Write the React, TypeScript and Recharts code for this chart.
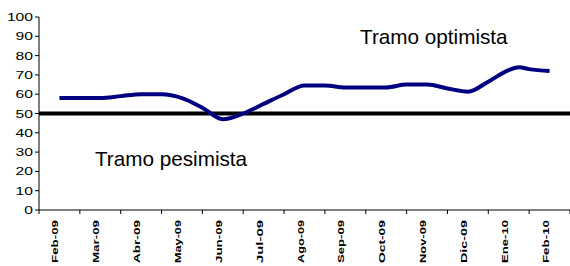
import React from 'react';
import { LineChart, Line, XAxis, YAxis, ReferenceLine, ReferenceDot } from 'recharts';

const monthLabels = ['Feb-09', 'Mar-09', 'Abr-09', 'May-09', 'Jun-09', 'Jul-09', 'Ago-09', 'Sep-09', 'Oct-09', 'Nov-09', 'Dic-09', 'Ene-10', 'Feb-10'];
const positions = [0, 0.5, 1, 1.5, 2, 2.5, 3, 3.5, 4, 4.5, 5, 5.5, 6, 6.5, 7, 7.5, 8, 8.5, 9, 9.5, 10, 10.5, 11, 11.25, 11.5, 12];
const values = [58, 58, 58, 59, 60, 60, 58, 53, 47, 50, 55, 60, 64.5, 64.5, 63.5, 63.5, 63.5, 65, 65, 63, 61.3, 66.5, 72.5, 74, 73, 72];
const yTicks = [0, 10, 20, 30, 40, 50, 60, 70, 80, 90, 100];
const threshold = 50;
const annotations = [
  { text: 'Tramo optimista', x: 7.36, y: 86 },
  { text: 'Tramo pesimista', x: 0.87, y: 22.8 },
];

const data = positions.map((p, i) => ({ x: p, v: values[i] }));
const monthTicks = monthLabels.map((_, i) => i);

const W = 570;
const H = 266;
const LEFT = 39;
const PLOT_W = W - LEFT;
const STEP = PLOT_W / monthLabels.length;

const FONT = 'Liberation Sans, Arial, sans-serif';

const MonthTick = (props: any) => {
  const { x, y, payload, index } = props;
  const label = monthLabels[payload.value] ?? '';
  const ty = y;
  return (
    <g>
      <line x1={x - STEP / 2} x2={x - STEP / 2} y1={ty} y2={ty + 4} stroke="#000" strokeWidth={1} />
      {index === monthLabels.length - 1 && (
        <line x1={x + STEP / 2} x2={x + STEP / 2} y1={ty} y2={ty + 4} stroke="#000" strokeWidth={1} />
      )}
      <text
        x={x - 1}
        y={ty + 10}
        transform={`rotate(-90, ${x - 1}, ${ty + 10})`}
        textAnchor="end"
        fontSize={8.5}
        fontWeight="bold"
        fontFamily={FONT}
        fill="#000"
        textLength={43}
        lengthAdjust="spacingAndGlyphs"
      >
        {label}
      </text>
    </g>
  );
};

const ValueTick = (props: any) => {
  const { x, y, payload } = props;
  const label = String(payload.value);
  return (
    <text
      x={x}
      y={y}
      dy={4}
      textAnchor="end"
      fontSize={11.5}
      fontFamily={FONT}
      fill="#000"
      textLength={label.length * 8.7}
      lengthAdjust="spacingAndGlyphs"
    >
      {label}
    </text>
  );
};

const makeLabel = (text: string) => (props: any) => {
  const vb = props.viewBox || {};
  const cx = vb.cx ?? vb.x ?? 0;
  const cy = vb.cy ?? vb.y ?? 0;
  return (
    <text x={cx} y={cy} textAnchor="start" fontSize={20.7} fontFamily={FONT} fill="#000">
      {text}
    </text>
  );
};

export default function App() {
  return (
    <div style={{ position: 'absolute', left: 0, top: 0, width: W, height: H, background: '#fff' }}>
      <LineChart width={W} height={H} data={data} margin={{ top: 17, right: 0, left: 0, bottom: 0 }}>
        <XAxis
          dataKey="x"
          type="number"
          domain={[-0.5, 12.5]}
          ticks={monthTicks}
          interval={0}
          tickLine={false}
          tickSize={0}
          tickMargin={0}
          axisLine={{ stroke: '#000' }}
          height={56}
          tick={<MonthTick />}
          allowDataOverflow
        />
        <YAxis
          type="number"
          domain={[0, 100]}
          ticks={yTicks}
          interval={0}
          width={LEFT}
          tickSize={4}
          tickMargin={2}
          axisLine={{ stroke: '#000' }}
          tickLine={{ stroke: '#000' }}
          tick={<ValueTick />}
        />
        <ReferenceLine y={threshold} stroke="#000" strokeWidth={4} />
        <Line
          type="monotone"
          dataKey="v"
          stroke="#000080"
          strokeWidth={4}
          dot={false}
          isAnimationActive={false}
        />
        {annotations.map((a) => (
          <ReferenceDot
            key={a.text}
            x={a.x}
            y={a.y}
            r={0}
            fill="none"
            stroke="none"
            ifOverflow="visible"
            label={makeLabel(a.text)}
          />
        ))}
      </LineChart>
    </div>
  );
}
